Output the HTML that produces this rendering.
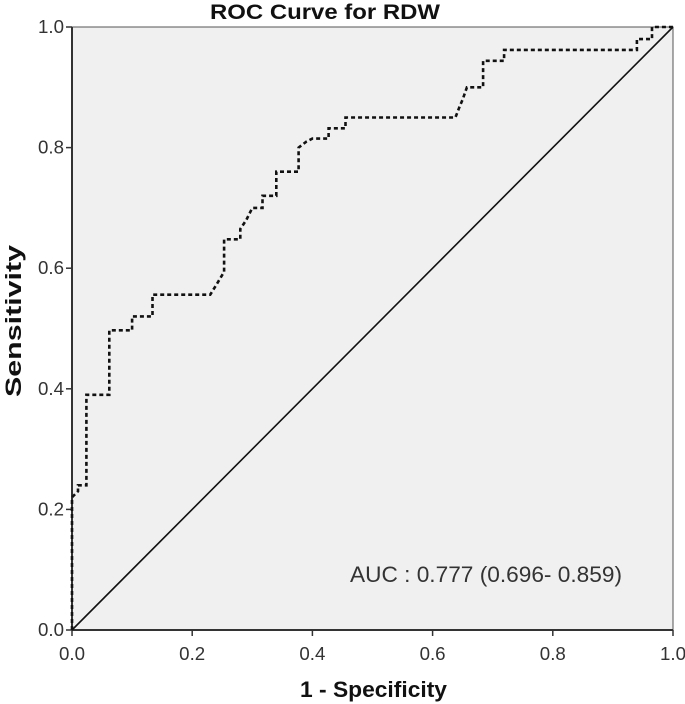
<!DOCTYPE html>
<html><head><meta charset="utf-8"><style>
html,body{margin:0;padding:0;background:#fff;}
svg{display:block;font-family:"Liberation Sans",Arial,sans-serif;}
</style></head><body>
<svg id="chart" width="685" height="704">
  <rect x="72" y="27" width="601" height="603" fill="#f0f0f0" stroke="#555" stroke-width="1"/>
  <text x="210" y="19" font-size="21" font-weight="bold" fill="#111" textLength="230" lengthAdjust="spacingAndGlyphs">ROC Curve for RDW</text>
  <g id="axes"></g>
  <line id="diag" stroke="#111" stroke-width="1.6"/>
  <path id="roc" fill="none" stroke="#111" stroke-width="2.6" stroke-dasharray="4,3"/>
  <text x="350" y="582" font-size="22" fill="#333" textLength="272" lengthAdjust="spacingAndGlyphs">AUC : 0.777 (0.696- 0.859)</text>
  <text x="300" y="697" font-size="22" font-weight="bold" fill="#111" textLength="147" lengthAdjust="spacingAndGlyphs">1 - Specificity</text>
  <text transform="translate(21,397) rotate(-90)" font-size="22" font-weight="bold" fill="#111" textLength="152" lengthAdjust="spacingAndGlyphs">Sensitivity</text>
</svg>
<script>
const ticks = [0, 0.2, 0.4, 0.6, 0.8, 1.0];
const tickLabels = ["0.0", "0.2", "0.4", "0.6", "0.8", "1.0"];
const fpr = [0, 0, 0.01, 0.01, 0.024, 0.024, 0.062, 0.062, 0.10, 0.10, 0.134, 0.134, 0.23, 0.24, 0.253, 0.253, 0.28, 0.28, 0.29, 0.30, 0.317, 0.317, 0.34, 0.34, 0.377, 0.377, 0.39, 0.40, 0.427, 0.427, 0.455, 0.455, 0.638, 0.645, 0.65, 0.657, 0.684, 0.684, 0.719, 0.719, 0.94, 0.94, 0.965, 0.965, 1.0];
const tpr = [0, 0.22, 0.23, 0.24, 0.24, 0.39, 0.39, 0.497, 0.497, 0.52, 0.52, 0.556, 0.556, 0.572, 0.594, 0.648, 0.648, 0.665, 0.68, 0.70, 0.70, 0.72, 0.72, 0.76, 0.76, 0.80, 0.81, 0.815, 0.815, 0.832, 0.832, 0.85, 0.85, 0.868, 0.88, 0.90, 0.90, 0.944, 0.944, 0.962, 0.962, 0.98, 0.98, 1.0, 1.0];
const X0 = 72, W = 601, Y0 = 630, H = 603;
const sx = v => X0 + v * W;
const sy = v => Y0 - v * H;
const NS = "http://www.w3.org/2000/svg";
const axes = document.getElementById('axes');
function mk(tag, attrs) { const e = document.createElementNS(NS, tag); for (const k in attrs) e.setAttribute(k, attrs[k]); axes.appendChild(e); return e; }
let l = mk('line', {x1: X0, y1: Y0, x2: X0 + W, y2: Y0, stroke: '#333', 'stroke-width': 2});


l = mk('line', {x1: X0, y1: Y0, x2: X0, y2: Y0 - H, stroke: '#333', 'stroke-width': 2});


ticks.forEach((t, i) => {
  let a = mk('line', {x1: sx(t), y1: Y0, x2: sx(t), y2: Y0 + 6, stroke: '#333', 'stroke-width': 1.5});
  
  
  let b = mk('text', {x: sx(t) - 13, y: Y0 + 30, 'font-size': 18, fill: '#333', textLength: 26, lengthAdjust: 'spacingAndGlyphs'});
  b.textContent = tickLabels[i];
  
  
  let c = mk('line', {x1: X0 - 6, y1: sy(t), x2: X0, y2: sy(t), stroke: '#333', 'stroke-width': 1.5});
  
  
  let d = mk('text', {x: X0 - 8 - 26, y: sy(t) + 6, 'font-size': 18, fill: '#333', textLength: 26, lengthAdjust: 'spacingAndGlyphs'});
  d.textContent = tickLabels[i];
  
  
});
const diag = document.getElementById('diag');
diag.setAttribute('x1', sx(0)); diag.setAttribute('y1', sy(0));
diag.setAttribute('x2', sx(1)); diag.setAttribute('y2', sy(1));
document.getElementById('roc').setAttribute('d', fpr.map((v, i) => (i ? 'L' : 'M') + sx(v).toFixed(1) + ',' + sy(tpr[i]).toFixed(1)).join(' '));
</script>
</body></html>
